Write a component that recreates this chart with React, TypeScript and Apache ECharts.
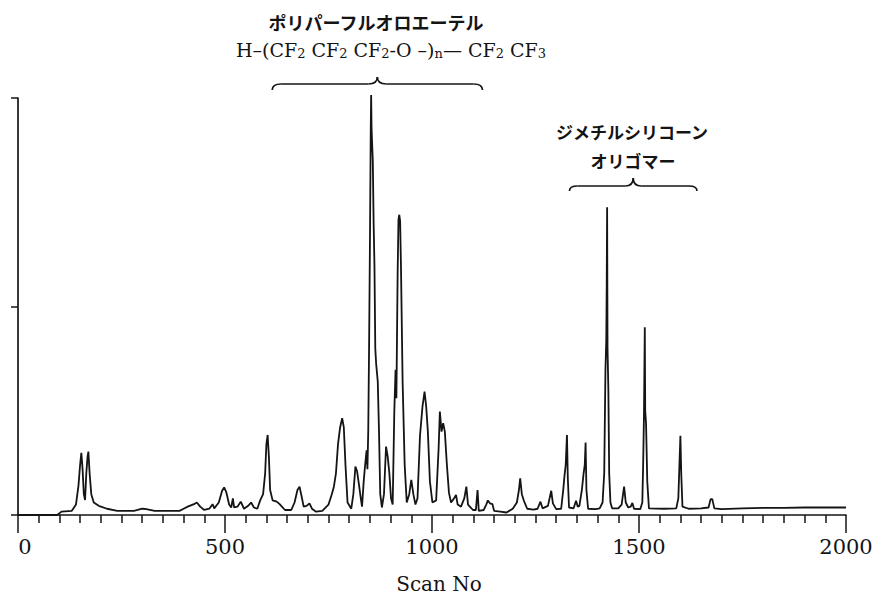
import React, { useEffect, useRef } from "react";
import * as echarts from "echarts";

// ---- Chromatogram trace (Scan No, relative intensity %) ----
// early region: 0 - 760
const scanEarly = [0, 95, 105, 130, 140, 146, 150, 153, 156, 159, 162, 165, 168, 170, 173, 177, 183, 195, 215, 240, 280, 300, 310, 330, 390, 400, 410, 425, 432, 440, 450, 462, 470, 474, 485, 493, 498, 503, 510, 515, 519, 522, 530, 538, 546, 556, 563, 570, 578, 585, 592, 597, 600, 603, 606, 609, 615, 625, 632, 645, 660, 668, 675, 680, 685, 690, 697, 704, 710, 720, 735, 750];
const intEarly = [0, 0, 0.8, 1, 2.5, 7, 12, 14.9, 11, 5, 3.6, 10, 14, 15.2, 10, 5, 3, 2.2, 1.5, 1, 1, 1.5, 1.4, 1, 1, 1.5, 2, 2.6, 3, 2, 1.2, 1.5, 2.6, 1.6, 3, 5.8, 6.6, 5.5, 2.5, 1.8, 4, 1.8, 2, 3.2, 1.5, 2.2, 3, 1.8, 1.5, 3.5, 5, 10, 17, 19.2, 14, 6, 3.5, 3.2, 2.6, 1.2, 1.2, 3, 6, 6.8, 4.5, 2, 2.2, 2.8, 1.5, 0.8, 1, 2.5];

// perfluoropolyether region: 758 - 1110
const scanPfpe = [758, 763, 768, 773, 778, 783, 787, 791, 796, 805, 810, 815, 819, 824, 828, 831, 835, 838, 842, 844, 846, 848, 850, 852, 853, 854, 855, 857, 859, 861, 863, 865, 869, 872, 875, 879, 884, 889, 893, 897, 901, 905, 909, 912, 914, 917, 919, 921, 923, 925, 929, 934, 939, 945, 950, 955, 960, 965, 971, 977, 982, 986, 990, 995, 1001, 1010, 1016, 1019, 1023, 1027, 1031, 1036, 1041, 1046, 1052, 1058, 1062, 1070, 1078, 1083, 1087, 1099, 1106, 1110];
const intPfpe = [5, 6.8, 10, 17, 21, 23.2, 21, 12, 3, 1.5, 5, 11.6, 10.5, 7, 4, 2, 8, 11.5, 15.5, 11, 20, 40, 64, 92, 100.7, 93, 90, 85, 70, 60, 40, 36.4, 32, 20, 5, 1.8, 5, 16.4, 14, 10, 4, 2.5, 25, 34.8, 28, 58, 70.8, 72, 70.5, 60, 32, 12, 3, 5, 8.4, 5, 2.5, 4, 19, 26, 29.6, 26, 20, 8, 3, 3.5, 16, 24.8, 20, 22, 20, 12, 5.3, 3, 3.8, 4.8, 2.5, 2, 4, 6.8, 2.5, 1.2, 1.2, 6];

// middle region: 1113 - 1331
const scanMid = [1113, 1125, 1131, 1135, 1140, 1146, 1150, 1165, 1180, 1195, 1205, 1210, 1213, 1217, 1222, 1230, 1245, 1255, 1262, 1267, 1280, 1288, 1292, 1300, 1312, 1317, 1320, 1323, 1326, 1328, 1331];
const intMid = [1, 1.2, 2.5, 3.5, 2.8, 2.6, 1, 0.8, 0.6, 1.5, 3, 6, 8.8, 5, 3.4, 1.5, 1.3, 1.5, 3.2, 1.6, 2.2, 5.8, 2.8, 1.4, 1.5, 6, 9.4, 12, 19.2, 9, 1.8];

// dimethylsilicone oligomer region: 1342 - 2000
const scanSil = [1342, 1348, 1352, 1356, 1362, 1366, 1369, 1371, 1373, 1377, 1395, 1405, 1412, 1416, 1419, 1421, 1422, 1423, 1424, 1426, 1428, 1431, 1435, 1450, 1458, 1464, 1468, 1474, 1480, 1484, 1488, 1503, 1508, 1510, 1512, 1514, 1515, 1517, 1520, 1524, 1560, 1590, 1595, 1597, 1600, 1602, 1605, 1620, 1650, 1668, 1673, 1677, 1682, 1700, 1750, 1800, 1850, 1900, 1950, 2000];
const intSil = [1.6, 3.4, 2, 2.2, 6, 9.8, 12, 17.4, 6, 1.5, 1.4, 1.6, 3, 10, 35, 42, 55, 73.8, 40, 30, 10, 3, 1.6, 1.6, 2.5, 6.8, 3, 1.8, 2, 2.9, 1.5, 1.4, 3, 12, 24, 45, 25, 22, 8, 1.6, 1.5, 1.6, 4, 10, 19, 10, 2, 1.5, 1.6, 1.8, 3.8, 3.8, 1.6, 1.4, 1.6, 1.7, 1.7, 1.8, 1.8, 1.8];

// axis
const xTicks = [0, 500, 1000, 1500, 2000];
const xName = "Scan No";

// annotations
const pfpeLabel = "ポリパーフルオロエーテル";
const silLabel1 = "ジメチルシリコーン";
const silLabel2 = "オリゴマー";
const braceScans = [
  [614, 1122],
  [1332, 1640],
];

const INK = "#141414";

export default function App() {
  const ref = useRef<HTMLDivElement>(null);

  useEffect(() => {
    if (!ref.current) return;
    const chart = echarts.init(ref.current, null, { renderer: "svg" });

    const data: number[][] = [];
    const push = (s: number[], v: number[]) => s.forEach((x, i) => data.push([x, v[i]]));
    push(scanEarly, intEarly);
    push(scanPfpe, intPfpe);
    push(scanMid, intMid);
    push(scanSil, intSil);

    const option: any = {
      animation: false,
      grid: { left: 18, right: 33, top: 98, bottom: 79, containLabel: false, outerBoundsMode: "none" },
      xAxis: {
        type: "value",
        min: xTicks[0],
        max: xTicks[xTicks.length - 1],
        interval: 500,
        name: xName,
        nameLocation: "middle",
        nameGap: 59,
        nameTextStyle: {
          fontFamily: "DejaVu Serif",
          fontSize: 20,
          lineHeight: 19,
          color: INK,
          padding: [0, 0, 0, 14],
        },
        axisLine: { show: true, onZero: false, lineStyle: { color: INK, width: 1.7 } },
        axisTick: { show: true, inside: false, length: 18, lineStyle: { color: INK, width: 1.5 } },
        minorTick: { show: true, splitNumber: 10, length: 8, lineStyle: { color: INK, width: 1.5 } },
        splitLine: { show: false },
        minorSplitLine: { show: false },
        axisLabel: {
          margin: 21,
          fontFamily: "DejaVu Serif",
          fontSize: 21,
          color: INK,
          formatter: (v: number) => (v === 0 ? "{z|0}" : String(v)),
          rich: {
            z: { fontFamily: "DejaVu Serif", fontSize: 21, color: INK, padding: [0, 0, 0, 14] },
          },
        },
      },
      yAxis: {
        type: "value",
        min: 0,
        max: 100,
        interval: 50,
        axisLine: { show: true, lineStyle: { color: INK, width: 1.7 } },
        axisTick: { show: true, inside: false, length: 7, lineStyle: { color: INK, width: 1.5 } },
        axisLabel: { show: false },
        splitLine: { show: false },
      },
      series: [
        {
          type: "line",
          data,
          showSymbol: false,
          symbol: "none",
          silent: true,
          clip: false,
          lineStyle: { color: INK, width: 1.8 },
        },
      ],
    };
    chart.setOption(option);

    const px = (s: number) => (chart.convertToPixel({ gridIndex: 0 }, [s, 0]) as number[])[0];

    const brace = (x1: number, x2: number, yLine: number, yTip: number, yEnd: number, r: number) => {
      const m = (x1 + x2) / 2;
      const style = { stroke: INK, lineWidth: 1.7, fill: null };
      const els: any[] = [
        { type: "bezierCurve", shape: { x1: x1, y1: yEnd, cpx1: x1, cpy1: yLine, x2: x1 + r, y2: yLine }, style },
        { type: "line", shape: { x1: x1 + r, y1: yLine, x2: m - r, y2: yLine }, style },
        { type: "bezierCurve", shape: { x1: m - r, y1: yLine, cpx1: m, cpy1: yLine, x2: m, y2: yTip }, style },
        { type: "bezierCurve", shape: { x1: m, y1: yTip, cpx1: m, cpy1: yLine, x2: m + r, y2: yLine }, style },
        { type: "line", shape: { x1: m + r, y1: yLine, x2: x2 - r, y2: yLine }, style },
        { type: "bezierCurve", shape: { x1: x2 - r, y1: yLine, cpx1: x2, cpy1: yLine, x2: x2, y2: yEnd }, style },
      ];
      return els;
    };

    const b1 = braceScans[0];
    const b2 = braceScans[1];

    const cjk = "'Noto Sans CJK JP', 'Noto Sans CJK SC', sans-serif";
    const mainTok = { fontFamily: "DejaVu Serif", fontSize: 19, lineHeight: 19, color: INK, verticalAlign: "top" };
    const subTok = { fontFamily: "DejaVu Serif", fontSize: 13, lineHeight: 13, color: INK, verticalAlign: "bottom", padding: [8, 0, 0, 0] };
    const formula =
      "{m|H–(CF}{s|2}{m| CF}{s|2}{m| CF}{s|2}{m|-O –)}{s|n}{m|— CF}{s|2}{m| CF}{s|3}";

    chart.setOption({
      graphic: [
        ...brace(px(b1[0]), px(b1[1]), 84, 77, 90, 9),
        ...brace(px(b2[0]), px(b2[1]), 186, 178, 191, 8),
        {
          type: "text",
          style: { text: pfpeLabel, x: 376, y: 22, align: "center", verticalAlign: "middle", fontFamily: cjk, fontSize: 18, fontWeight: "bold", fill: INK },
        },
        {
          type: "text",
          style: {
            text: formula,
            x: 391,
            y: 50,
            align: "center",
            verticalAlign: "middle",
            rich: { m: mainTok, s: subTok },
            fill: INK,
          },
        },
        {
          type: "text",
          style: { text: silLabel1, x: 632, y: 131, align: "center", verticalAlign: "middle", fontFamily: cjk, fontSize: 17, fontWeight: "bold", fill: INK },
        },
        {
          type: "text",
          style: { text: silLabel2, x: 633, y: 160, align: "center", verticalAlign: "middle", fontFamily: cjk, fontSize: 17, fontWeight: "bold", fill: INK },
        },
      ],
    });

    return () => chart.dispose();
  }, []);

  return <div ref={ref} style={{ position: "absolute", left: 0, top: 0, width: 879, height: 594, background: "#fff" }} />;
}
